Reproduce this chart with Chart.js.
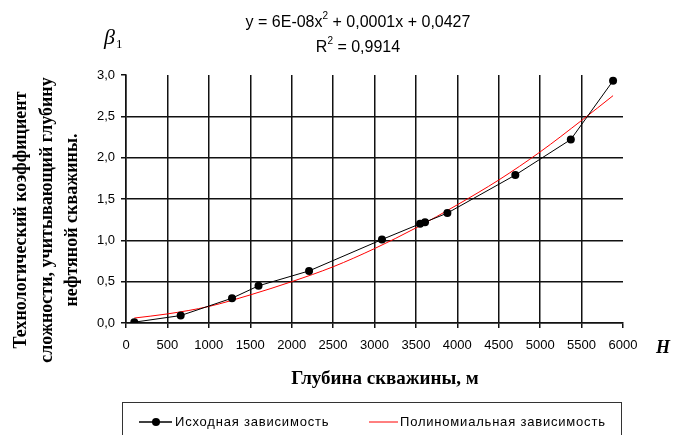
<!DOCTYPE html>
<html>
<head>
<meta charset="utf-8">
<script src="https://cdn.jsdelivr.net/npm/chart.js@4.4.1/dist/chart.umd.min.js"></script>
<style>
    html, body { margin: 0; padding: 0; background: #fff; }
    #wrap { width: 673px; height: 435px; position: relative; }
</style>
</head>
<body>
<div id="wrap"><canvas id="chart" width="673" height="435"></canvas></div>
<script>
// Source data
const depth = [100, 660, 1280, 1600, 2210, 3090, 3550, 3610, 3880, 4700, 5370, 5880];
const beta = [0.01, 0.09, 0.30, 0.45, 0.63, 1.01, 1.20, 1.22, 1.33, 1.79, 2.22, 2.93];

// Polynomial trend line
const trendDepth = [100, 500, 1000, 1500, 2000, 2500, 3000, 3500, 4000, 4500, 5000, 5500, 5880];
const trendBeta = [0.06, 0.11, 0.20, 0.34, 0.50, 0.68, 0.90, 1.15, 1.43, 1.73, 2.07, 2.45, 2.75];

const seriesNames = ['Исходная зависимость', 'Полиномиальная зависимость'];
const equationText = ['y = 6E-08x', '2', ' + 0,0001x + 0,0427'];
const rSquaredText = ['R', '2', ' = 0,9914'];
const xTitle = 'Глубина скважины, м';
const yTitleLines = ['Технологический коэффициент', 'сложности, учитывающий глубину', 'нефтяной скважины.'];

const SANS = '"Liberation Sans", Arial, sans-serif';
const SERIF = '"Liberation Serif", "Times New Roman", serif';

/**
 * Draw text with a superscript part: [base, sup, rest]
 */
function drawSupText(ctx, parts, cx, cy, size) {
    ctx.font = `${size}px ${SANS}`;
    const w0 = ctx.measureText(parts[0]).width;
    const w2 = ctx.measureText(parts[2]).width;
    ctx.font = `${Math.round(size * 0.65)}px ${SANS}`;
    const w1 = ctx.measureText(parts[1]).width;
    let x = cx - (w0 + w1 + w2) / 2;
    ctx.textAlign = 'left';
    ctx.textBaseline = 'middle';
    ctx.font = `${size}px ${SANS}`;
    ctx.fillText(parts[0], x, cy);
    x += w0;
    ctx.font = `${Math.round(size * 0.65)}px ${SANS}`;
    ctx.fillText(parts[1], x, cy - size * 0.4);
    x += w1;
    ctx.font = `${size}px ${SANS}`;
    ctx.fillText(parts[2], x, cy);
}

// Extra texts and the boxed legend
const decorPlugin = {
    id: 'decor',
    afterDraw(chart) {
        const ctx = chart.ctx;
        ctx.save();
        ctx.fillStyle = '#000';

        // trend equation
        drawSupText(ctx, equationText, 358, 23, 16);
        drawSupText(ctx, rSquaredText, 358, 48, 16);

        // beta_1 label
        ctx.textAlign = 'left';
        ctx.textBaseline = 'middle';
        ctx.font = `italic 22px ${SERIF}`;
        ctx.fillText('β', 104, 38);
        ctx.font = `13px ${SERIF}`;
        ctx.fillText('1', 116, 45);

        // H axis letter
        ctx.textAlign = 'center';
        ctx.font = `italic bold 18px ${SERIF}`;
        ctx.fillText('H', 663, 348);

        // x title
        ctx.font = `bold 19px ${SERIF}`;
        ctx.fillText(xTitle, 385, 379);

        // y title (rotated)
        ctx.save();
        ctx.translate(0, 220);
        ctx.rotate(-Math.PI / 2);
        ctx.font = `bold 18px ${SERIF}`;
        ctx.fillText(yTitleLines[0], 0, 21);
        ctx.fillText(yTitleLines[1], 0, 47);
        ctx.fillText(yTitleLines[2], 0, 72);
        ctx.restore();

        // legend box
        ctx.strokeStyle = '#333';
        ctx.lineWidth = 1;
        ctx.strokeRect(122.5, 402.5, 499, 40);

        const ly = 422;
        ctx.strokeStyle = '#000';
        ctx.lineWidth = 1.5;
        ctx.beginPath();
        ctx.moveTo(139, ly);
        ctx.lineTo(172, ly);
        ctx.stroke();
        ctx.beginPath();
        ctx.arc(156, ly, 4, 0, Math.PI * 2);
        ctx.fill();

        ctx.strokeStyle = '#ff0000';
        ctx.lineWidth = 1;
        ctx.beginPath();
        ctx.moveTo(369, ly);
        ctx.lineTo(398, ly);
        ctx.stroke();

        ctx.fillStyle = '#000';
        ctx.textAlign = 'left';
        ctx.font = `13px ${SANS}`;
        ctx.letterSpacing = '0.8px';
        ctx.fillText(seriesNames[0], 175, ly);
        ctx.fillText(seriesNames[1], 400, ly);

        ctx.restore();
    }
};

const ctx = document.getElementById('chart').getContext('2d');

new Chart(ctx, {
    type: 'line',
    data: {
        datasets: [
            {
                label: seriesNames[0],
                data: depth.map((d, i) => ({ x: d, y: beta[i] })),
                borderColor: '#000',
                backgroundColor: '#000',
                borderWidth: 1,
                pointRadius: 4,
                pointHoverRadius: 4,
                pointBorderWidth: 0,
                tension: 0
            },
            {
                label: seriesNames[1],
                data: trendDepth.map((d, i) => ({ x: d, y: trendBeta[i] })),
                borderColor: '#ff0000',
                borderWidth: 1,
                pointRadius: 0,
                cubicInterpolationMode: 'monotone'
            }
        ]
    },
    options: {
        responsive: false,
        animation: false,
        layout: {
            padding: { top: 75, right: 50, left: 0, bottom: 0 }
        },
        plugins: {
            legend: { display: false },
            tooltip: { enabled: false }
        },
        scales: {
            x: {
                type: 'linear',
                min: 0,
                max: 6000,
                afterFit: scale => { scale.height = 112; },
                ticks: {
                    stepSize: 500,
                    autoSkip: false,
                    maxRotation: 0,
                    padding: 10,
                    color: '#000',
                    font: { family: SANS, size: 13 },
                    callback: v => String(v)
                },
                grid: {
                    color: c => (c.tick && c.tick.value === 6000) ? 'rgba(0,0,0,0)' : '#111',
                    tickColor: '#111',
                    lineWidth: 1.5,
                    tickLength: 5
                },
                border: { display: true, color: '#111', width: 1.5 }
            },
            y: {
                min: 0,
                max: 3,
                afterFit: scale => { scale.width = 126; },
                ticks: {
                    stepSize: 0.5,
                    padding: 6,
                    color: '#000',
                    font: { family: SANS, size: 13 },
                    callback: v => v.toFixed(1).replace('.', ',')
                },
                grid: {
                    color: c => (c.tick && c.tick.value === 3) ? 'rgba(0,0,0,0)' : '#111',
                    tickColor: '#111',
                    lineWidth: 1.5,
                    tickLength: 5
                },
                border: { display: true, color: '#111', width: 1.5 }
            }
        }
    },
    plugins: [decorPlugin]
});
</script>
</body>
</html>
